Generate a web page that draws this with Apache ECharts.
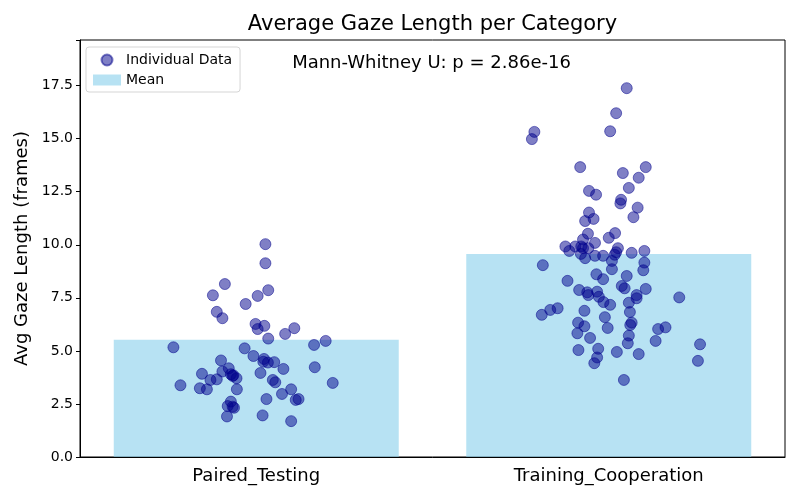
<!DOCTYPE html>
<html>
<head>
    <meta charset="utf-8">
    <title>Average Gaze Length per Category</title>
    <script src="https://cdn.jsdelivr.net/npm/echarts@6/dist/echarts.min.js"></script>
</head>
<body style="margin:0">
    <div id="main" style="width: 800px;height:500px;"></div>
    <script type="text/javascript">
        // categories and means
        var categories = ["Paired_Testing", "Training_Cooperation"]
        var means = [5.52, 9.57]
        var yTicks = [0, 2.5, 5, 7.5, 10, 12.5, 15, 17.5]

        // individual points: jitter offset from the category centre, and value
        var pairedJitter = [0.026, 0.026, -0.089, -0.123, 0.034, 0.004, -0.030, -0.112, -0.096, -0.002,
            0.004, 0.023, 0.034, 0.082, 0.108, 0.164, 0.197, -0.235, -0.033, -0.008,
            0.022, 0.020, 0.033, 0.051, 0.077, 0.012, -0.100, -0.078, -0.096, -0.072,
            -0.067, -0.056, -0.065, -0.154, -0.130, -0.112, -0.215, -0.160, -0.140, -0.055,
            0.047, 0.054, 0.166, 0.217, 0.099, 0.073, 0.029, 0.112, 0.120, -0.072,
            -0.081, -0.067, -0.063, -0.083, 0.018, 0.099]
        var pairedValues = [10.03, 9.13, 8.15, 7.62, 7.86, 7.59, 7.21, 6.84, 6.54, 6.27,
            6.03, 6.18, 5.58, 5.80, 6.07, 5.28, 5.47, 5.17, 5.12, 4.76,
            4.62, 4.49, 4.45, 4.47, 4.15, 3.96, 4.55, 4.18, 4.03, 3.90,
            3.82, 3.71, 3.85, 3.92, 3.63, 3.66, 3.38, 3.24, 3.19, 3.19,
            3.63, 3.52, 4.23, 3.49, 3.19, 2.97, 2.73, 2.69, 2.73, 2.61,
            2.40, 2.37, 2.32, 1.91, 1.96, 1.69]

        var trainingJitter = [0.051, 0.021, 0.004, -0.211, -0.218, -0.081, 0.105, 0.040, 0.085, 0.057,
            -0.056, -0.036, 0.035, 0.033, 0.082, 0.070, -0.056, -0.067, -0.043, -0.059,
            -0.073, 0.018, 0.000, -0.039, -0.123, -0.112, -0.095, -0.078, -0.073, -0.058,
            -0.079, -0.067, -0.039, -0.016, 0.026, 0.021, 0.017, 0.009, 0.065, 0.101,
            0.101, 0.098, 0.009, -0.187, -0.117, -0.035, -0.016, 0.051, 0.037, 0.045,
            0.105, -0.084, -0.061, -0.058, -0.033, -0.028, 0.079, 0.079, 0.200, -0.015,
            0.004, 0.057, 0.060, -0.190, -0.166, -0.145, -0.069, -0.011, -0.087, -0.069,
            -0.003, -0.089, -0.053, 0.065, 0.061, 0.057, 0.054, 0.140, 0.161, 0.133,
            0.259, 0.253, -0.086, -0.030, -0.033, -0.041, 0.023, 0.085, 0.043]
        var trainingValues = [17.38, 16.20, 15.35, 15.32, 14.98, 13.66, 13.66, 13.38, 13.16, 12.68,
            12.54, 12.36, 12.12, 11.95, 11.75, 11.30, 11.52, 11.12, 11.22, 10.52,
            10.25, 10.55, 10.33, 10.09, 9.92, 9.71, 9.92, 9.92, 9.84, 9.84,
            9.57, 9.37, 9.48, 9.48, 9.84, 9.65, 9.53, 9.24, 9.62, 9.71,
            9.16, 8.80, 8.85, 9.04, 8.30, 8.61, 8.38, 8.53, 8.06, 7.95,
            7.92, 7.87, 7.76, 7.63, 7.79, 7.55, 7.63, 7.48, 7.52, 7.30,
            7.17, 7.27, 6.83, 6.70, 6.93, 7.01, 6.89, 6.59, 6.33, 6.16,
            6.08, 5.83, 5.61, 6.33, 6.22, 5.72, 5.36, 6.03, 6.11, 5.47,
            5.31, 4.53, 5.04, 5.10, 4.69, 4.42, 4.95, 4.85, 3.63]

        var pointData = []
        pairedJitter.forEach(function (j, i) { pointData.push([0 + j, pairedValues[i]]) })
        trainingJitter.forEach(function (j, i) { pointData.push([1 + j, trainingValues[i]]) })

        var font = "DejaVu Sans"
        var myChart = echarts.init(document.getElementById("main"))

        var option = {
            animation: false,
            backgroundColor: "#ffffff",
            textStyle: { fontFamily: font },
            legend: {
                orient: "vertical",
                left: 86,
                top: 47,
                padding: [6, 8, 5, 7],
                itemGap: 6,
                itemWidth: 28,
                itemHeight: 11,
                borderColor: "#d5d5d5",
                borderWidth: 1,
                borderRadius: 3,
                backgroundColor: "rgba(255,255,255,0.8)",
                textStyle: { fontFamily: font, fontSize: 14, color: "#000" },
                data: [
                    { name: "Individual Data", icon: "circle" },
                    { name: "Mean", icon: "rect" }
                ],
                z: 10
            },
            graphic: [
                {
                    type: "text",
                    x: 432.5,
                    y: 14,
                    style: {
                        text: "Average Gaze Length per Category",
                        font: "21px DejaVu Sans",
                        fill: "#000",
                        textAlign: "center"
                    },
                    z: 10
                },
                {
                    type: "text",
                    x: 431.5,
                    y: 54,
                    style: {
                        text: "Mann-Whitney U: p = 2.86e-16",
                        font: "18px DejaVu Sans",
                        fill: "#000",
                        textAlign: "center"
                    },
                    z: 10
                }
            ],
            grid: {
                left: 80,
                right: 15,
                top: 40,
                bottom: 43,
                show: true,
                borderColor: "#000",
                borderWidth: 1,
                backgroundColor: "transparent"
            },
            xAxis: [
                {
                    type: "category",
                    data: categories,
                    axisLine: { lineStyle: { color: "#000" } },
                    axisTick: { alignWithLabel: true, length: 4, lineStyle: { color: "#000" } },
                    axisLabel: { fontFamily: font, fontSize: 18, color: "#000", margin: 10 }
                },
                {
                    type: "value",
                    min: -0.5,
                    max: 1.5,
                    show: false
                }
            ],
            yAxis: {
                type: "value",
                min: 0,
                max: 19.65,
                interval: 2.5,
                name: "Avg Gaze Length (frames)",
                nameLocation: "middle",
                nameGap: 47,
                nameTextStyle: { fontFamily: font, fontSize: 18, color: "#000" },
                axisLine: { show: true, onZero: false, lineStyle: { color: "#000" } },
                axisTick: { show: true, length: 4, lineStyle: { color: "#000" } },
                splitLine: { show: false },
                axisLabel: {
                    fontFamily: font,
                    fontSize: 14,
                    color: "#000",
                    margin: 7,
                    formatter: function (v) {
                        return yTicks.indexOf(v) >= 0 ? v.toFixed(1) : ""
                    }
                }
            },
            series: [
                {
                    name: "Mean",
                    type: "bar",
                    xAxisIndex: 0,
                    barWidth: 285,
                    data: means,
                    itemStyle: { color: "rgba(135,206,235,0.6)" },
                    z: 1
                },
                {
                    name: "Individual Data",
                    type: "scatter",
                    xAxisIndex: 1,
                    symbol: "circle",
                    symbolSize: 11,
                    data: pointData,
                    itemStyle: {
                        color: "rgba(0,0,139,0.5)",
                        borderColor: "rgba(0,0,139,0.5)",
                        borderWidth: 1,
                        opacity: 1
                    },
                    z: 3
                }
            ]
        }

        myChart.setOption(option)
    </script>
</body>
</html>
